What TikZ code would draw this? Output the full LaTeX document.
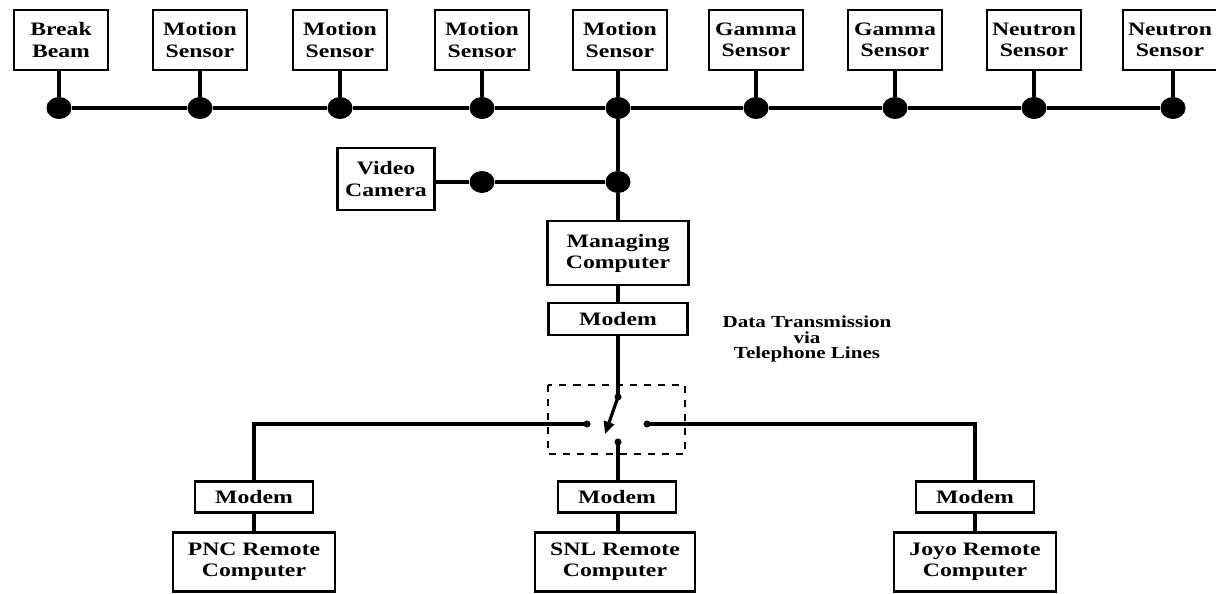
\documentclass[tikz,border=0pt]{standalone}
\usepackage{fontspec}
\newfontfamily\labelfont[FakeStretch=1.25]{Liberation Serif}
\usepackage{tikz}
\usetikzlibrary{arrows.meta,shapes.geometric}
\tikzset{
	unit/.style={draw, line width=1.2pt, align=center, inner sep=0pt, font=\labelfont\bfseries\fontsize{10.8}{12}\selectfont},
	sensor/.style={unit, minimum width=1.88cm, minimum height=1.2cm},
	modem/.style={unit, minimum width=2.36cm, minimum height=0.62cm},
	remote/.style={unit, minimum width=3.25cm, minimum height=1.18cm},
	tap/.style={ellipse, fill=black, inner sep=0pt, minimum width=0.5cm, minimum height=0.44cm},
	contact/.style={circle, fill=black, inner sep=0pt, minimum size=4pt},
	wire/.style={line width=1.8pt}
}

\begin{document}
\begin{tikzpicture}[x=0.02cm, y=-0.02cm]
			%%%%% START %%%%%
			\useasboundingbox (0, 0) rectangle (1216, 594);
			
			% sensors on the bus
			\node[sensor] (beam) at (61, 40) {Break\\Beam};
			\node[sensor] (mot1) at (200, 40) {Motion\\Sensor};
			\node[sensor] (mot2) at (340, 40) {Motion\\Sensor};
			\node[sensor] (mot3) at (482, 40) {Motion\\Sensor};
			\node[sensor] (mot4) at (620, 40) {Motion\\Sensor};
			\node[sensor] (gam1) at (756, 40) {Gamma\\Sensor};
			\node[sensor] (gam2) at (895, 40) {Gamma\\Sensor};
			\node[sensor] (neu1) at (1034, 40) {Neutron\\Sensor};
			\node[sensor] (neu2) at (1170, 40) {Neutron\\Sensor};
			
			\node[tap] (tbeam) at (59, 108) {};
			\node[tap] (tmot1) at (200, 108) {};
			\node[tap] (tmot2) at (340, 108) {};
			\node[tap] (tmot3) at (482, 108) {};
			\node[tap] (tmot4) at (618, 108) {};
			\node[tap] (tgam1) at (756, 108) {};
			\node[tap] (tgam2) at (895, 108) {};
			\node[tap] (tneu1) at (1034, 108) {};
			\node[tap] (tneu2) at (1173, 108) {};
			
			\draw[wire] (tbeam) -- (tmot1) -- (tmot2) -- (tmot3) -- (tmot4) -- (tgam1) -- (tgam2) -- (tneu1) -- (tneu2);
			\draw[wire] (beam.south -| tbeam) -- (tbeam);
			\draw[wire] (mot1) -- (tmot1);
			\draw[wire] (mot2) -- (tmot2);
			\draw[wire] (mot3) -- (tmot3);
			\draw[wire] (mot4.south -| tmot4) -- (tmot4);
			\draw[wire] (gam1) -- (tgam1);
			\draw[wire] (gam2) -- (tgam2);
			\draw[wire] (neu1) -- (tneu1);
			\draw[wire] (neu2.south -| tneu2) -- (tneu2);
			
			% camera and managing computer
			\node[unit, minimum width=1.94cm, minimum height=1.24cm] (cam) at (386, 179) {Video\\Camera};
			\node[tap] (tcam) at (482, 182) {};
			\node[tap] (tmid) at (618, 182) {};
			\draw[wire] (cam.east |- tcam) -- (tcam) -- (tmid);
			
			\node[unit, minimum width=2.82cm, minimum height=1.28cm] (mgr) at (618, 253) {Managing\\Computer};
			\node[modem, minimum width=2.78cm, minimum height=0.64cm] (mgrmodem) at (618, 319) {Modem};
			\draw[wire] (tmot4) -- (tmid) -- (mgr);
			\draw[wire] (mgr) -- (mgrmodem);
			
			% switch
			\draw[line width=1.5pt, dash pattern=on 4pt off 4pt] (548, 385) rectangle (685, 454);
			\node[contact] (piv) at (618, 397) {};
			\node[contact] (cleft) at (587, 424) {};
			\node[contact] (cright) at (647, 424) {};
			\node[contact] (cbot) at (618, 442) {};
			\coordinate (blade) at (605, 434);
			\draw[wire] (mgrmodem) -- (piv.center);
			\draw[wire, -{Triangle[length=7pt, width=6pt]}] (piv.center) -- (blade);
			
			\node[font=\labelfont\bfseries\fontsize{9.6}{8.8}\selectfont, align=center] (phone) at (807, 339) {Data Transmission\\via\\Telephone Lines};
			
			% remote sites
			\node[modem] (pncmodem) at (254, 497) {Modem};
			\node[remote] (pnc) at (254, 562) {PNC Remote\\Computer};
			\node[modem] (snlmodem) at (617, 497) {Modem};
			\node[remote, minimum width=3.2cm] (snl) at (615, 562) {SNL Remote\\Computer};
			\node[modem] (joyomodem) at (975, 497) {Modem};
			\node[remote] (joyo) at (975, 562) {Joyo Remote\\Computer};
			
			\draw[wire] (cleft.center) -| (pncmodem);
			\draw[wire] (cright.center) -| (joyomodem);
			\draw[wire] (cbot.center) -- (snlmodem.north -| cbot);
			\draw[wire] (pncmodem) -- (pnc);
			\draw[wire] (snlmodem.south -| cbot) -- (snl.north -| cbot);
			\draw[wire] (joyomodem) -- (joyo);
			%%%%% END %%%%%
\end{tikzpicture}
\end{document}
